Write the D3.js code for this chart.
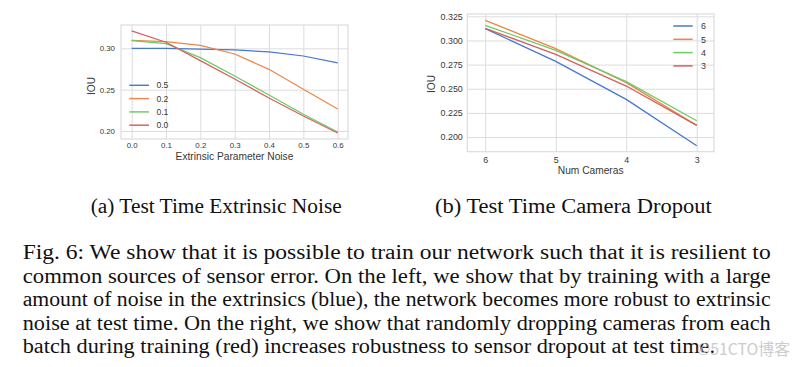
<!DOCTYPE html>
<html><head><meta charset="utf-8">
<script src="https://cdn.jsdelivr.net/npm/d3@7"></script>
<style>
html,body{margin:0;padding:0;background:#fff;}
svg{display:block;}
</style></head>
<body>
<svg id="c" width="803" height="367"></svg>
<script>
// ---------- data ----------
const noiseLevels = [0.0, 0.1, 0.2, 0.3, 0.4, 0.5, 0.6];
const noiseSeriesNames = ["0.5", "0.2", "0.1", "0.0"];
const noise05 = [0.300, 0.300, 0.299, 0.298, 0.2956, 0.2907, 0.2823];
const noise02 = [0.3097, 0.308, 0.3036, 0.2931, 0.2746, 0.2504, 0.2266];
const noise01 = [0.3093, 0.3056, 0.2887, 0.2665, 0.2435, 0.2202, 0.1988];
const noise00 = [0.321, 0.3073, 0.2851, 0.2629, 0.2399, 0.2181, 0.1976];
const noiseYTicks = [0.20, 0.25, 0.30];

const numCameras = [6, 5, 4, 3];
const camSeriesNames = ["6", "5", "4", "3"];
const cam6 = [0.3122, 0.2784, 0.239, 0.191];
const cam5 = [0.3209, 0.2915, 0.2563, 0.2121];
const cam4 = [0.3157, 0.2898, 0.2573, 0.2169];
const cam3 = [0.3126, 0.2856, 0.2528, 0.2121];
const camYTicks = [0.200, 0.225, 0.250, 0.275, 0.300, 0.325];

const subCaptions = ["(a) Test Time Extrinsic Noise", "(b) Test Time Camera Dropout"];
const captionLines = [
  "Fig. 6: We show that it is possible to train our network such that it is resilient to",
  "common sources of sensor error. On the left, we show that by training with a large",
  "amount of noise in the extrinsics (blue), the network becomes more robust to extrinsic",
  "noise at test time. On the right, we show that randomly dropping cameras from each",
  "batch during training (red) increases robustness to sensor dropout at test time."
];
const watermark = "©51CTO博客";

const palette = ["#4878d0", "#ee854a", "#6acc64", "#d65f5f"];

// ---------- drawing ----------
const svg = d3.select("#c");
const SANS = "'Liberation Sans', Arial, sans-serif";
const SERIF = "'Liberation Serif', 'Times New Roman', serif";
const GRID = "#dcdcdc";
const TXT = "#383838";

function panel(opt) {
  const g = svg.append("g");
  const x = opt.x, y = opt.y;
  const [x0, x1] = x.range(), [y0, y1] = y.range();
  const W = x1 - x0, H = y0 - y1;
  const ya = g.append("g").attr("transform", `translate(${Math.min(x0,x1)},0)`)
    .call(d3.axisLeft(y).tickValues(opt.yTicks).tickFormat(d3.format(opt.yFmt))
      .tickSizeInner(-Math.abs(W)).tickSizeOuter(0).tickPadding(opt.yPad));
  const xa = g.append("g").attr("transform", `translate(0,${y0})`)
    .call(d3.axisBottom(x).tickValues(opt.xTicks).tickFormat(opt.xFmt)
      .tickSizeInner(-H).tickSizeOuter(0).tickPadding(opt.xPad));
  [ya, xa].forEach(a => {
    a.select(".domain").remove();
    a.selectAll(".tick line").attr("stroke", GRID).attr("stroke-width", 1);
    a.selectAll(".tick text").attr("fill", TXT).attr("font-family", SANS).attr("font-size", opt.tickFs);
  });
  g.append("rect").attr("x", Math.min(x0,x1)).attr("y", y1).attr("width", Math.abs(W)).attr("height", H)
    .attr("fill", "none").attr("stroke", GRID).attr("stroke-width", 1.2);
  const line = d3.line().x((d, i) => x(opt.xs[i])).y(d => y(d));
  opt.series.forEach((s, k) => {
    g.append("path").attr("d", line(s)).attr("fill", "none")
      .attr("stroke", palette[k]).attr("stroke-width", opt.lw).attr("stroke-linejoin", "round");
  });
  opt.names.forEach((n, k) => {
    const ly = opt.legY + k * opt.legStep;
    g.append("line").attr("x1", opt.legX).attr("x2", opt.legX + opt.legLen)
      .attr("y1", ly).attr("y2", ly).attr("stroke", palette[k]).attr("stroke-width", opt.lw + 0.2);
    g.append("text").attr("x", opt.legX + opt.legLen + opt.legGap).attr("y", ly).attr("dy", "0.36em")
      .attr("font-family", SANS).attr("font-size", opt.legFs).attr("fill", TXT).text(n);
  });
  g.append("text").attr("x", (x0 + x1) / 2).attr("y", opt.xLabY).attr("text-anchor", "middle")
    .attr("font-family", SANS).attr("font-size", 10.2).attr("fill", TXT).text(opt.xLabel);
  g.append("text").attr("transform", `translate(${opt.yLabX},${opt.yLabCY}) rotate(-90)`)
    .attr("text-anchor", "middle").attr("dy", "0.36em")
    .attr("font-family", SANS).attr("font-size", 10.2).attr("fill", TXT).text(opt.yLabel);
}

// left panel
const xL = d3.scaleLinear().domain([-0.031, 0.63]).range([121, 348]);
const yL = d3.scaleLinear().domain([0.1903, 0.3282]).range([139, 25]);
panel({
  x: xL, y: yL, xs: noiseLevels, xTicks: noiseLevels, xFmt: d3.format(".1f"),
  yTicks: noiseYTicks, yFmt: ".2f", yPad: 6, xPad: 3.5, tickFs: 7.9, lw: 1.25,
  series: [noise05, noise02, noise01, noise00], names: noiseSeriesNames,
  legX: 129.3, legLen: 19.7, legGap: 7.4, legY: 85.3, legStep: 13.3, legFs: 8.6,
  xLabel: "Extrinsic Parameter Noise", xLabY: 160.3, yLabel: "IOU", yLabX: 91.7, yLabCY: 86
});

// right panel (reversed camera axis)
const xR = d3.scaleLinear().domain([6.255, 2.755]).range([467.3, 714]);
const yR = d3.scaleLinear().domain([0.1848, 0.3274]).range([151.7, 14]);
panel({
  x: xR, y: yR, xs: numCameras, xTicks: numCameras, xFmt: d3.format("d"),
  yTicks: camYTicks, yFmt: ".3f", yPad: 4.5, xPad: 4.5, tickFs: 8.9, lw: 1.3,
  series: [cam6, cam5, cam4, cam3], names: camSeriesNames,
  legX: 673.3, legLen: 19.4, legGap: 8.3, legY: 26, legStep: 13.3, legFs: 8.9,
  xLabel: "Num Cameras", xLabY: 174.3, yLabel: "IOU", yLabX: 431.7, yLabCY: 84
});

// sub captions
const subPos = [[90.7, 341.7], [435, 711.7]];
subCaptions.forEach((t, i) => {
  svg.append("text").attr("x", subPos[i][0]).attr("y", 212.7)
    .attr("font-family", SERIF).attr("font-size", 20).attr("fill", "#111")
    .attr("textLength", subPos[i][1] - subPos[i][0]).attr("lengthAdjust", "spacingAndGlyphs")
    .text(t);
});

// figure caption, justified
const capLeft = 22.7, capRight = 770.7, lastRight = 715;
captionLines.forEach((t, i) => {
  const right = i === captionLines.length - 1 ? lastRight : capRight;
  svg.append("text").attr("x", capLeft).attr("y", 259.3 + i * 23.5)
    .attr("font-family", SERIF).attr("font-size", 20).attr("fill", "#111")
    .attr("textLength", right - capLeft).attr("lengthAdjust", "spacingAndGlyphs")
    .text(t);
});

// watermark
svg.append("text").attr("x", 697).attr("y", 355).attr("font-family", "'Noto Sans CJK SC', sans-serif")
  .attr("font-size", 16).attr("fill", "#c4c4c4").attr("opacity", 0.85)
  .attr("textLength", 93).attr("lengthAdjust", "spacingAndGlyphs").text(watermark);
</script>
</body></html>
